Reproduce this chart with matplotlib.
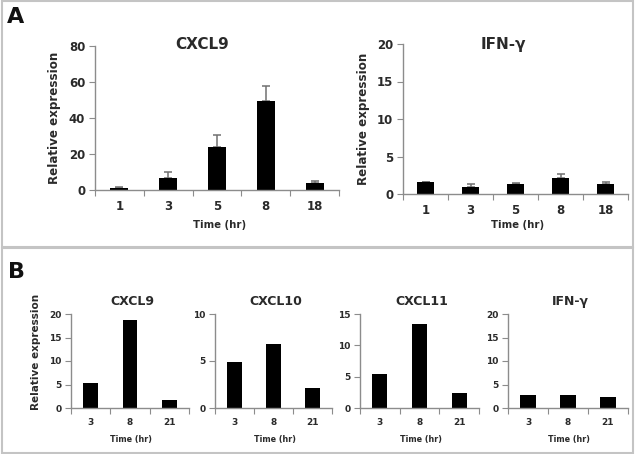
import matplotlib
matplotlib.use("Agg")
import matplotlib.pyplot as plt
from matplotlib.patches import Rectangle

W, H = 636, 454

# panel A data
times_a = ["1", "3", "5", "8", "18"]
cxcl9_a = [0.9, 6.6, 24.1, 49.6, 4.0]
cxcl9_a_err = [0.9, 3.4, 6.3, 7.9, 0.8]
ifng_a = [1.56, 0.98, 1.4, 2.2, 1.3]
ifng_a_err = [0.1, 0.32, 0.1, 0.47, 0.26]

# panel B data
times_b = ["3", "8", "21"]
cxcl9_b = [5.4, 18.7, 1.7]
cxcl10_b = [4.88, 6.82, 2.1]
cxcl11_b = [5.46, 13.4, 2.4]
ifng_b = [2.8, 2.8, 2.35]

TXT = "#2a2a2a"
SPINE = "#8c8c8c"
plt.rcParams["font.family"] = ["DejaVu Sans"]
plt.rcParams["font.weight"] = "bold"

fig = plt.figure(figsize=(W / 100, H / 100), dpi=100)


def px_axes(x0, x1, y0, y1):
    return fig.add_axes([x0 / W, 1 - y1 / H, (x1 - x0) / W, (y1 - y0) / H])


def bar_panel(ax, cats, vals, ymax, ystep, title, err=None, width=0.37,
              fs_tick=8.5, fs_title=11, fs_xlab=7.3, title_xy=(0.44, 1.0),
              xlab_y=-0.21, ylab=None):
    n = len(cats)
    xs = list(range(n))
    ax.bar(xs, vals, width=width, color="black", zorder=2)
    if err is not None:
        ax.errorbar(xs, vals, yerr=[[0] * n, err], fmt="none", ecolor="#707070",
                    elinewidth=1.1, capsize=3, capthick=1.1, zorder=1)
    ax.set_xlim(-0.5, n - 0.5)
    ax.set_ylim(0, ymax)
    ax.set_yticks(list(range(0, ymax + 1, ystep)))
    # category boundaries get the tick marks, centres get the labels
    ax.set_xticks([i - 0.5 for i in range(n + 1)])
    ax.set_xticklabels([])
    ax.set_xticks(xs, minor=True)
    ax.set_xticklabels(cats, minor=True)
    ax.tick_params(axis="x", which="major", length=4, color=SPINE, direction="out")
    ax.tick_params(axis="x", which="minor", length=0, pad=7, labelsize=fs_tick,
                   labelcolor=TXT)
    ax.tick_params(axis="y", length=4, color=SPINE, labelsize=fs_tick,
                   labelcolor=TXT, pad=3)
    for s in ("top", "right"):
        ax.spines[s].set_visible(False)
    for s in ("left", "bottom"):
        ax.spines[s].set_color(SPINE)
        ax.spines[s].set_linewidth(1)
    ax.text(title_xy[0], title_xy[1], title, transform=ax.transAxes,
            ha="center", va="center", fontsize=fs_title, fontweight="bold",
            color=TXT)
    ax.set_xlabel("Time (hr)", fontsize=fs_xlab, fontweight="bold", color=TXT)
    ax.xaxis.set_label_coords(0.51, xlab_y)
    if ylab is not None:
        ax.set_ylabel("Relative expression", fontsize=ylab[2],
                      fontweight="bold", color=TXT)
        ax.yaxis.set_label_coords(ylab[0], ylab[1])


# panel A
ax1 = px_axes(95, 339, 46, 190)
bar_panel(ax1, times_a, cxcl9_a, 80, 20, "CXCL9", err=cxcl9_a_err,
          title_xy=(0.44, 1.007), xlab_y=-0.205, ylab=(-0.139, 0.5, 8.6))
ax2 = px_axes(403, 628, 44, 194)
bar_panel(ax2, times_a, ifng_a, 20, 5, "IFN-γ", err=ifng_a_err,
          title_xy=(0.444, 1.0), xlab_y=-0.17, ylab=(-0.147, 0.5, 8.6))

# panel B
b_specs = [
    (71, 189, cxcl9_b, 20, 5, "CXCL9"),
    (215, 332, cxcl10_b, 10, 5, "CXCL10"),
    (360, 479, cxcl11_b, 15, 5, "CXCL11"),
    (508, 628, ifng_b, 20, 5, "IFN-γ"),
]
for i, (x0, x1, vals, ymax, step, title) in enumerate(b_specs):
    ax = px_axes(x0, x1, 314, 408)
    bar_panel(ax, times_b, vals, ymax, step, title, width=0.38, fs_tick=6.5,
              fs_title=9, fs_xlab=5.8, title_xy=(0.52, 1.13), xlab_y=-0.285,
              ylab=(-0.254, 0.6, 7.5) if i == 0 else None)

# panel frames and letters
for (x0, y0, x1, y1) in [(1.5, 1.5, 633, 247.5), (1.5, 247.5, 633, 452.5)]:
    fig.add_artist(Rectangle((x0 / W, 1 - y1 / H), (x1 - x0) / W, (y1 - y0) / H,
                             transform=fig.transFigure, fill=False,
                             edgecolor="#c4c4c4", linewidth=1.5))
fig.text(16 / W, 1 - 17 / H, "A", fontsize=16, fontweight="bold", color="#111111",
         ha="center", va="center")
fig.text(16 / W, 1 - 272 / H, "B", fontsize=16, fontweight="bold", color="#111111",
         ha="center", va="center")

fig.savefig("out.png", dpi=100)
